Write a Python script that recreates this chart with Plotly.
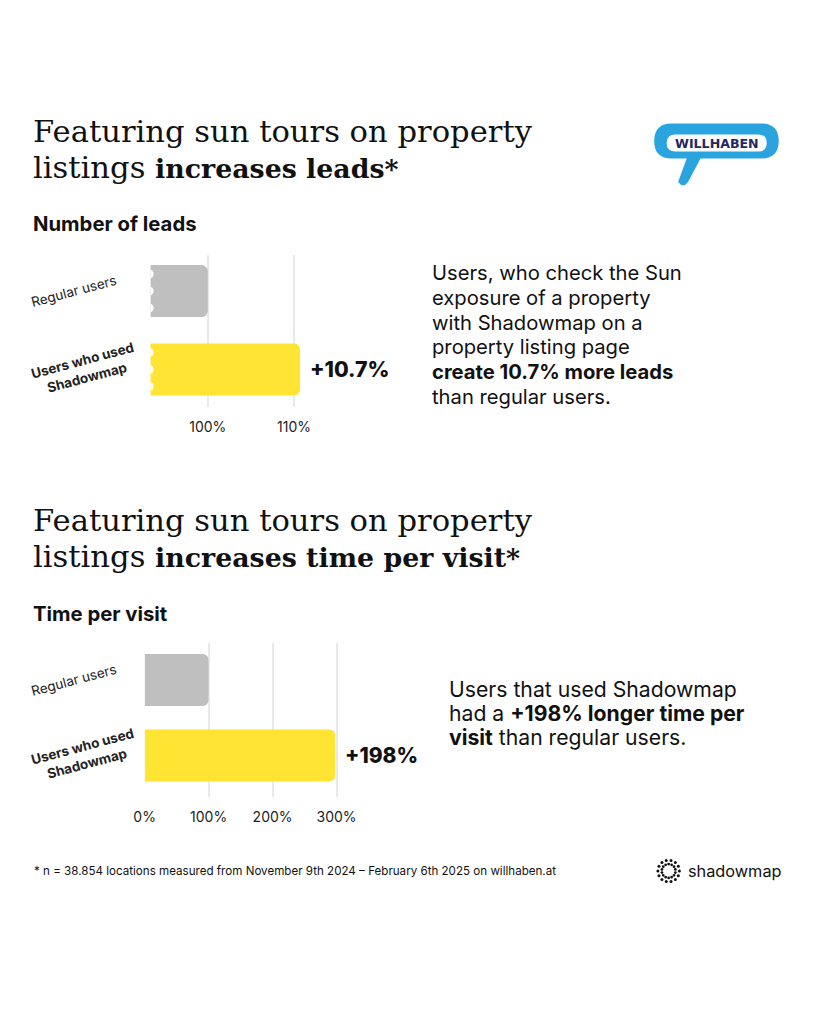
import math
import plotly.graph_objects as go

W, H = 819, 1023
# empirical horizontal calibration of the viewer: rendered_x = S * paper_px + A
S, A = 0.9907, 9.1

# ---------------- data ----------------
categories = ["Regular users", "Users who used Shadowmap"]
category_labels = ["Regular users", "<b>Users who used<br>Shadowmap</b>"]
leads_values = [100, 110.7]          # % (index, regular users = 100%)
time_values = [100, 298]             # % (index, regular users = 100%)
leads_ticks = [100, 110]
leads_ticktext = ["100%", "110%"]
time_ticks = [0, 100, 200, 300]
time_ticktext = ["0%", "100%", "200%", "300%"]

bar_colors = ["#bfbfbf", "#ffe433"]
SANS = "Inter, Lato, 'Noto Sans', sans-serif"
SERIF = "'DejaVu Serif', 'Liberation Serif', serif"
INK = "#111111"


def px(x):
    return ((x - A) / S) / W


def py(y):
    return 1 - y / H


fig = go.Figure()

fig.add_trace(go.Bar(
    y=categories, x=leads_values, orientation="h",
    marker=dict(color=bar_colors, line=dict(width=0)),
    width=0.66, xaxis="x", yaxis="y", hoverinfo="skip", showlegend=False,
))
fig.add_trace(go.Bar(
    y=categories, x=time_values, orientation="h",
    marker=dict(color=bar_colors, line=dict(width=0)),
    width=0.69, xaxis="x2", yaxis="y2", hoverinfo="skip", showlegend=False,
))

# axis geometry (target pixels)
x1_left, x1_right = 149.3, 400
x1_scale = (293.3 - 206.7) / 10.0
x1_r0 = 100 - (206.7 - x1_left) / x1_scale
x1_r1 = 100 + (x1_right - 206.7) / x1_scale

x2_left, x2_right = 143.3, 420
x2_scale = (336 - 143.3) / 300.0
x2_r1 = (x2_right - x2_left) / x2_scale

tickfont = dict(family=SANS, size=14, color="#222")
common_x = dict(showgrid=True, gridcolor="#e9e9e9", gridwidth=1.5, zeroline=False,
                showline=False, ticks="", tickfont=tickfont, ticklabelstandoff=10,
                fixedrange=True)
common_y = dict(showgrid=False, zeroline=False, showline=False, showticklabels=False,
                ticks="", fixedrange=True)

fig.update_layout(
    width=W, height=H, autosize=False,
    margin=dict(l=0, r=0, t=0, b=0, pad=0),
    paper_bgcolor="white", plot_bgcolor="white",
    barcornerradius=6,
    xaxis=dict(domain=[px(x1_left), px(x1_right)], range=[x1_r0, x1_r1],
               tickvals=leads_ticks, ticktext=leads_ticktext, anchor="y", **common_x),
    yaxis=dict(domain=[py(407), py(255)], range=[1.478, -0.459], anchor="x", **common_y),
    xaxis2=dict(domain=[px(x2_left), px(x2_right)], range=[0, x2_r1],
                tickvals=time_ticks, ticktext=time_ticktext, anchor="y2", **common_x),
    yaxis2=dict(domain=[py(797), py(643)], range=[1.55, -0.49], anchor="x2", **common_y),
)

ann = []
shapes = []


def sized(text, size):
    return f'<span style="font-size:{size}px">{text}</span>'


# titles (line spacing from base size 28, glyphs sized with spans)
def title(center_y, regular1, regular2, bold2):
    text = (sized(regular1, 30.6) + "<br>" + sized(regular2, 30.6)
            + "<b>" + sized(bold2, 26.8) + "</b>")
    ann.append(dict(text=text, x=px(29), y=py(center_y), xref="paper", yref="paper",
                    xanchor="left", yanchor="middle", showarrow=False, align="left",
                    font=dict(family=SERIF, size=28, color=INK)))


title(150, "Featuring sun tours on property", "listings ", "increases leads*")
title(538, "Featuring sun tours on property", "listings ", "increases time per visit*")

# subtitles
for text, y in [("<b>Number of leads</b>", 223), ("<b>Time per visit</b>", 613)]:
    ann.append(dict(text=text, x=px(29), y=py(y), xref="paper", yref="paper",
                    xanchor="left", yanchor="middle", showarrow=False,
                    font=dict(family=SANS, size=20.3, color=INK)))

# category labels (rotated)
for yref in ("y", "y2"):
    for cx, i in [(72, 0), (83, 1)]:
        ann.append(dict(text=category_labels[i], x=px(cx), y=categories[i], xref="paper",
                        yref=yref, xanchor="center", yanchor="middle", showarrow=False,
                        textangle=-15, align="center",
                        font=dict(family=SANS, size=13.5, color="#222")))


# value labels
def delta_label(v):
    d = v - 100
    return f"+{d:.1f}%" if abs(d - round(d)) > 1e-9 else f"+{d:.0f}%"


ann.append(dict(text=delta_label(leads_values[1]), x=leads_values[1],
                y=categories[1], xref="x", yref="y", xanchor="left", yanchor="middle",
                xshift=8, showarrow=False,
                font=dict(family=SANS, size=21.3, color=INK, weight=800)))
ann.append(dict(text=delta_label(time_values[1]), x=time_values[1],
                y=categories[1], xref="x2", yref="y2", xanchor="left", yanchor="middle",
                xshift=8, showarrow=False,
                font=dict(family=SANS, size=21, color=INK, weight=800)))

# paragraphs
para1 = ["Users, who check the Sun", "exposure of a property", "with Shadowmap on a",
         "property listing page", "<b>create 10.7% more leads</b>", "than regular users."]
para2 = ["Users that used Shadowmap", "had a <b>+198% longer time per</b>",
         "<b>visit</b> than regular users."]
ann.append(dict(text="<br>".join(sized(l, 20.2) for l in para1), x=px(430), y=py(334.5),
                xref="paper", yref="paper", xanchor="left", yanchor="middle",
                showarrow=False, align="left",
                font=dict(family=SANS, size=19.1, color=INK)))
ann.append(dict(text="<br>".join(sized(l, 21.2) for l in para2), x=px(447), y=py(713),
                xref="paper", yref="paper", xanchor="left", yanchor="middle",
                showarrow=False, align="left",
                font=dict(family=SANS, size=18.6, color=INK)))

# footnote
ann.append(dict(text="* n = 38.854 locations measured from November 9th 2024 \u2013 February 6th 2025 on willhaben.at",
                x=px(30), y=py(871), xref="paper", yref="paper", xanchor="left",
                yanchor="middle", showarrow=False, font=dict(family=SANS, size=11.6, color=INK)))

# shadowmap logo
ann.append(dict(text="shadowmap", x=px(687), y=py(871), xref="paper", yref="paper",
                xanchor="left", yanchor="middle", showarrow=False,
                font=dict(family=SANS, size=16.3, color=INK)))
cx, cy = 669.5, 871
for ring_r, n, off, dr in [(10.8, 14, 0, 1.5), (6.9, 14, math.pi / 14, 1.4)]:
    for k in range(n):
        a = off + 2 * math.pi * k / n
        x = cx + ring_r * math.cos(a)
        y = cy + ring_r * math.sin(a)
        shapes.append(dict(type="circle", xref="paper", yref="paper",
                           x0=px(x - dr), x1=px(x + dr), y0=py(y + dr), y1=py(y - dr),
                           fillcolor=INK, line=dict(width=0), layer="above"))


# willhaben logo
def rrect_path(x0, y0, x1, y1, r):
    pts = [f"M{px(x0 + r)},{py(y0)}", f"L{px(x1 - r)},{py(y0)}",
           f"Q{px(x1)},{py(y0)} {px(x1)},{py(y0 + r)}",
           f"L{px(x1)},{py(y1 - r)}",
           f"Q{px(x1)},{py(y1)} {px(x1 - r)},{py(y1)}",
           f"L{px(x0 + r)},{py(y1)}",
           f"Q{px(x0)},{py(y1)} {px(x0)},{py(y1 - r)}",
           f"L{px(x0)},{py(y0 + r)}",
           f"Q{px(x0)},{py(y0)} {px(x0 + r)},{py(y0)}", "Z"]
    return " ".join(pts)


BLUE = "#2aa4df"
tail = [(690, 152), (705, 152), (689, 182), (686, 185), (682, 185), (679, 182)]
shapes.append(dict(type="path", xref="paper", yref="paper",
                   path="M" + " L".join(f"{px(a)},{py(b)}" for a, b in tail) + " Z",
                   fillcolor=BLUE, line=dict(width=0), layer="above"))
shapes.append(dict(type="path", xref="paper", yref="paper",
                   path=rrect_path(655, 123.5, 780, 158.5, 17.5), fillcolor=BLUE,
                   line=dict(width=0), layer="above"))
shapes.append(dict(type="path", xref="paper", yref="paper",
                   path=rrect_path(667.5, 134.5, 768, 151.5, 8.5), fillcolor="white",
                   line=dict(width=0), layer="above"))
ann.append(dict(text="<b>WILLHABEN</b>", x=px(718.5), y=py(144), xref="paper",
                yref="paper", xanchor="center", yanchor="middle", showarrow=False,
                font=dict(family="'DejaVu Sans', sans-serif", size=12.6, color="#25275e")))

# wavy (broken-axis) left edge of the leads bars
for i in range(len(categories)):
    for off in (-17, 0, 17):
        shapes.append(dict(type="circle", xref="x", yref="y", xsizemode="pixel",
                           ysizemode="pixel", xanchor=x1_r0, yanchor=i,
                           x0=-5.5, x1=3, y0=off - 4.5, y1=off + 4.5,
                           fillcolor="white", line=dict(width=0), layer="above"))

fig.update_layout(annotations=ann, shapes=shapes)
fig.write_html("out.html")
